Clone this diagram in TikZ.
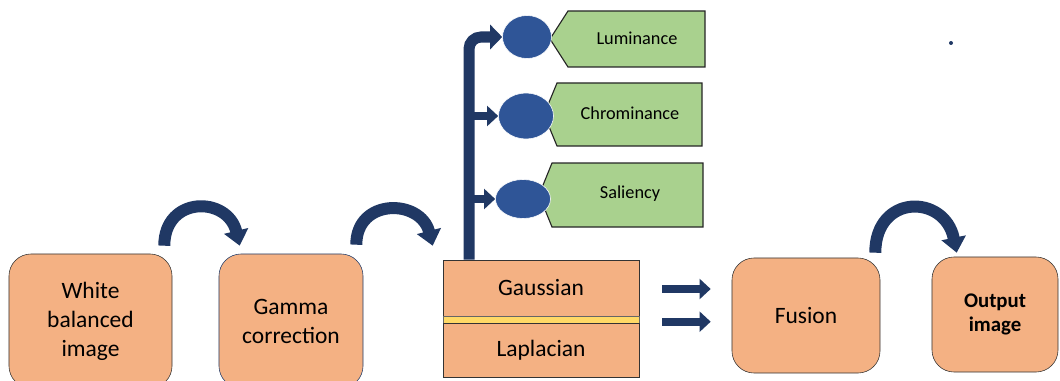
\documentclass[tikz,border=0pt]{standalone}
\usepackage{fontspec}
\setmainfont{Carlito}
\usepackage{xcolor}
\usetikzlibrary{calc}
\usetikzlibrary{shapes.geometric}
\usetikzlibrary{arrows.meta}

\definecolor{peach}{HTML}{F4B183}
\definecolor{leaf}{HTML}{A9D18E}
\definecolor{navy}{HTML}{203864}
\definecolor{dot}{HTML}{2F5597}
\definecolor{stripe}{HTML}{FFD966}

\begin{document}
\begin{tikzpicture}[x=0.025cm, y=-0.025cm,
		stage/.style={draw=black!80, fill=peach, rounded corners=0.55cm, align=center, inner sep=0pt, font=\fontsize{16.7}{20.6}\selectfont},
		layer/.style={draw=black!80, fill=peach, minimum width=4.9cm, inner sep=0pt, font=\fontsize{16.7}{20.6}\selectfont},
		blob/.style={ellipse, fill=dot, draw=white, inner sep=0pt},
		tag/.style={draw=black!85, fill=leaf, line width=0.8pt},
		hop/.style={navy, line width=0.3cm, -{Triangle[width=0.6cm, length=0.38cm]}},
		feed/.style={navy, line width=0.2cm, -{Triangle[width=0.5cm, length=0.28cm]}}]
			\clip (0,0) rectangle (1060,381);
			\useasboundingbox (0,0) rectangle (1060,381);

			% Pipeline stages
			\node[stage, minimum width=4.075cm, minimum height=3.35cm] (wb) at (90.5,321) {White\\balanced\\image};
			\node[stage, draw=dot!70!black, minimum width=3.6cm, minimum height=3.35cm] (gm) at (291,321) {Gamma\\correction};
			\node[layer, minimum height=1.4cm] (gs) at (541,288) {Gaussian};
			\node[draw=black!60, fill=stripe, minimum width=4.9cm, minimum height=0.175cm, inner sep=0pt] (st) at (541,319.5) {};
			\node[layer, minimum height=1.35cm] (lp) at (541,350) {Laplacian};
			\node[stage, minimum width=3.7cm, minimum height=2.875cm] (fu) at (806,315.5) {Fusion};
			\node[stage, minimum width=3.15cm, minimum height=2.875cm, font=\bfseries\fontsize{14.8}{17}\selectfont] (out) at (995,314.5) {Output\\image};

			% Weight maps
			\draw[tag] (550,39) -- (568,11) -- (705,11) -- (705,67) -- (568,67) -- cycle;
			\draw[tag] (544,114.5) -- (557,83) -- (702,83) -- (702,146) -- (557,146) -- cycle;
			\draw[tag] (539,195) -- (552,163) -- (703,163) -- (703,227) -- (552,227) -- cycle;
			\node[font=\fontsize{13}{15}\selectfont] (lum) at (637,38) {Luminance};
			\node[font=\fontsize{13}{15}\selectfont] (chr) at (630,113) {Chrominance};
			\node[font=\fontsize{13}{15}\selectfont] (sal) at (630,194) {Saliency};
			\node[blob, minimum width=1.225cm, minimum height=1.075cm] (lumc) at (527,37) {};
			\node[blob, minimum width=1.375cm, minimum height=1.15cm] (chc) at (526,116) {};
			\node[blob, minimum width=1.375cm, minimum height=0.975cm] (salc) at (523,199) {};

			% Branch from the pyramid
			\coordinate (trunk) at (469,38);
			\draw[navy, line width=0.275cm, rounded corners=0.3cm, -{Triangle[width=0.6cm, length=0.3cm]}] (gs.north -| trunk) |- (lumc.west);
			\draw[feed] (trunk |- chc.west) -- (chc.west);
			\draw[feed] (trunk |- salc.west) -- (salc.west);

			% Curved arrows
			\draw[hop] ($(wb.north east)+(-8,-8)$) .. controls +(0,-50) and +(-12,-50) .. ($(gm.north west)+(21,-8)$);
			\draw[hop] ($(gm.north east)+(-7,-9)$) .. controls +(0,-47) and +(-12,-47) .. ($(gs.north west)+(-10,-14)$);
			\draw[hop] ($(fu.north east)+(-5,-5)$) .. controls +(0,-59) and +(-12,-59) .. ($(out.north west)+(25,-4)$);

			% Into the fusion
			\draw[feed] ($(gs.east)+(23,1)$) -- ($(fu.west |- gs.east)+(-21,1)$);
			\draw[feed] ($(lp.north east)+(23,-1)$) -- ($(fu.west |- lp.north)+(-21,-1)$);

			\fill[navy] (951,43) circle (2);
		\end{tikzpicture}
\end{document}
